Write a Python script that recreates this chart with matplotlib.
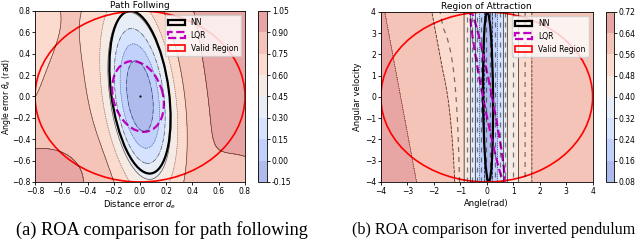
import matplotlib
matplotlib.use('Agg')
import matplotlib.pyplot as plt
from matplotlib.patches import Ellipse
import numpy as np

# ---- (a) path following ----
pf_levels = [-0.15, 0.0, 0.15, 0.30, 0.45, 0.60, 0.75, 0.90, 1.05]
pf_line_styles = ['dashdot', 'dotted', 'dashdot', 'solid', 'dotted', 'solid', 'solid']
pf_range = (-0.8, 0.8)
pf_ticks = [-0.8, -0.6, -0.4, -0.2, 0.0, 0.2, 0.4, 0.6, 0.8]
# lyapunov-like surface: tilted ellipse, saturating
pf_angle = 96.0      # deg, major axis direction
pf_a, pf_b = 0.76, 0.22
pf_base, pf_gain, pf_scale = -0.15, 1.0, 1.15
pf_side = 0.12       # darker to the right of the valley
# corner corrections (x, y, amount, spread)
pf_corners = [(-0.8, -0.8, 0.30, 0.14),
              (-0.8, 0.8, -0.04, 0.40),
              (0.8, -0.8, -0.10, 0.06)]
pf_equilibrium = (0.0, 0.0)
# ROA boundaries: center, full width, full height, angle
pf_nn = ((0.0, 0.04), 1.53, 0.44, 96.0)
pf_lqr = ((-0.015, 0.0), 0.67, 0.38, 101.0)
pf_valid = ((0.0, 0.0), 1.6, 1.6, 0.0)

# ---- (b) inverted pendulum ----
ip_levels = [0.08, 0.16, 0.24, 0.32, 0.40, 0.48, 0.56, 0.64, 0.72]
ip_line_styles = ['dashdot', 'dashed', 'dotted', 'solid', 'solid', 'solid', 'dashed', 'dotted', 'dotted']
ip_extra_levels = [0.13, 0.20, 0.28, 0.36, 0.44, 0.52]
ip_range = (-4, 4)
ip_ticks = [-4, -3, -2, -1, 0, 1, 2, 3, 4]
# profile across the angle axis (value vs. sheared angle)
ip_u = [-4.8, -3.25, -1.47, -0.85, -0.65, -0.40, -0.20, 0.05, 0.40, 0.60, 0.75, 1.20, 1.70, 4.8]
ip_val = [0.70, 0.64, 0.56, 0.48, 0.40, 0.30, 0.20, 0.10, 0.24, 0.32, 0.40, 0.48, 0.56, 0.62]
ip_shear = 0.15
ip_nn = ((0.05, 0.0), 8.0, 0.38, 90.4)
ip_lqr = ((0.03, 0.0), 8.1, 0.34, 98.9)
ip_valid = ((0.0, 0.0), 8.0, 8.0, 0.0)


def pf_field(X, Y):
    t = np.deg2rad(pf_angle)
    u = X * np.cos(t) + Y * np.sin(t)
    v = X * np.sin(t) - Y * np.cos(t)
    q = (u / pf_a) ** 2 + (v / pf_b) ** 2
    Z = pf_base + pf_gain * (1 - np.exp(-q / pf_scale)) + pf_side * v * np.tanh(q / 3.0)
    for cx, cy, amt, spread in pf_corners:
        Z = Z + amt * np.exp(-((X - cx) ** 2 + (Y - cy) ** 2) / spread)
    return np.clip(Z, pf_levels[0] + 1e-3, pf_levels[-1] - 1e-3)


def ip_field(X, Y):
    shear = ip_shear * np.clip((-X - 0.85) / 0.8, 0, 1)
    u = X + shear * Y
    return np.interp(u, ip_u, ip_val)


def add_roa(ax, nn, lqr, valid):
    ax.add_patch(Ellipse(nn[0], nn[1], nn[2], angle=nn[3], fill=False,
                         edgecolor='k', lw=1.6, label='NN'))
    ax.add_patch(Ellipse(lqr[0], lqr[1], lqr[2], angle=lqr[3], fill=False,
                         edgecolor='m', lw=1.6, ls='--', label='LQR'))
    ax.add_patch(Ellipse(valid[0], valid[1], valid[2], angle=valid[3], fill=False,
                         edgecolor='red', lw=1.2, label='Valid Region'))
    ax.legend(loc='upper right', fontsize=5.5, framealpha=0.8, borderpad=0.4,
              handlelength=2.2, labelspacing=0.5)


fig = plt.figure(figsize=(6.4, 2.4), dpi=100)

# left
ax1 = fig.add_axes([0.0547, 0.2417, 0.3281, 0.7125])
cax1 = fig.add_axes([0.403, 0.2417, 0.014, 0.7125])
xs = np.linspace(pf_range[0], pf_range[1], 400)
X, Y = np.meshgrid(xs, xs)
Z = pf_field(X, Y)
cs1 = ax1.contourf(X, Y, Z, levels=pf_levels, cmap='coolwarm', alpha=0.45)
ax1.contour(X, Y, Z, levels=pf_levels[1:-1], colors='k', linewidths=0.5, alpha=0.6,
            linestyles=pf_line_styles)
ax1.plot(*pf_equilibrium, 'k.', ms=1.2)
add_roa(ax1, pf_nn, pf_lqr, pf_valid)
ax1.set_xlim(pf_range)
ax1.set_ylim(pf_range)
ax1.set_xticks(pf_ticks)
ax1.set_yticks(pf_ticks)
ax1.set_title('Path Follwing', fontsize=6.5, pad=2)
ax1.set_xlabel('Distance error $d_e$', fontsize=6, labelpad=2)
ax1.set_ylabel(r'Angle error $\theta_e$ (rad)', fontsize=5.6, va='center')
ax1.yaxis.set_label_coords(-0.138, 0.5)
cb1 = fig.colorbar(cs1, cax=cax1, ticks=pf_levels, format='%.2f')

# right
ax2 = fig.add_axes([0.595, 0.2417, 0.331, 0.7083])
cax2 = fig.add_axes([0.947, 0.2417, 0.0125, 0.7083])
xs2 = np.linspace(ip_range[0], ip_range[1], 500)
X2, Y2 = np.meshgrid(xs2, xs2)
Z2 = ip_field(X2, Y2)
cs2 = ax2.contourf(X2, Y2, Z2, levels=ip_levels, cmap='coolwarm', alpha=0.45)
ax2.contour(X2, Y2, Z2, levels=ip_levels, colors='k', linewidths=0.6, alpha=0.7,
            linestyles=ip_line_styles)
ax2.contour(X2, Y2, Z2, levels=ip_extra_levels, colors='k', linewidths=0.9, alpha=0.5,
            linestyles=[(0, (4, 4))])
add_roa(ax2, ip_nn, ip_lqr, ip_valid)
ax2.set_xlim(ip_range)
ax2.set_ylim(ip_range)
ax2.set_xticks(ip_ticks)
ax2.set_yticks(ip_ticks)
ax2.set_title('Region of Attraction', fontsize=6.5, pad=2)
ax2.set_xlabel('Angle(rad)', fontsize=6, labelpad=2)
ax2.set_ylabel('Angular velocity', fontsize=6, labelpad=2)
cb2 = fig.colorbar(cs2, cax=cax2, ticks=ip_levels, format='%.2f')

for a in (ax1, ax2, cax1, cax2):
    a.tick_params(labelsize=5.5, length=2, width=0.6, pad=1.5)
    for s in a.spines.values():
        s.set_linewidth(0.6)

fig.text(0.253, 0.042, '(a) ROA comparison for path following', ha='center', va='center',
         fontsize=13.2, family='Liberation Serif')
fig.text(0.771, 0.042, '(b) ROA comparison for inverted pendulum', ha='center', va='center',
         fontsize=11.6, family='Liberation Serif')

fig.savefig('out.png', dpi=100)
